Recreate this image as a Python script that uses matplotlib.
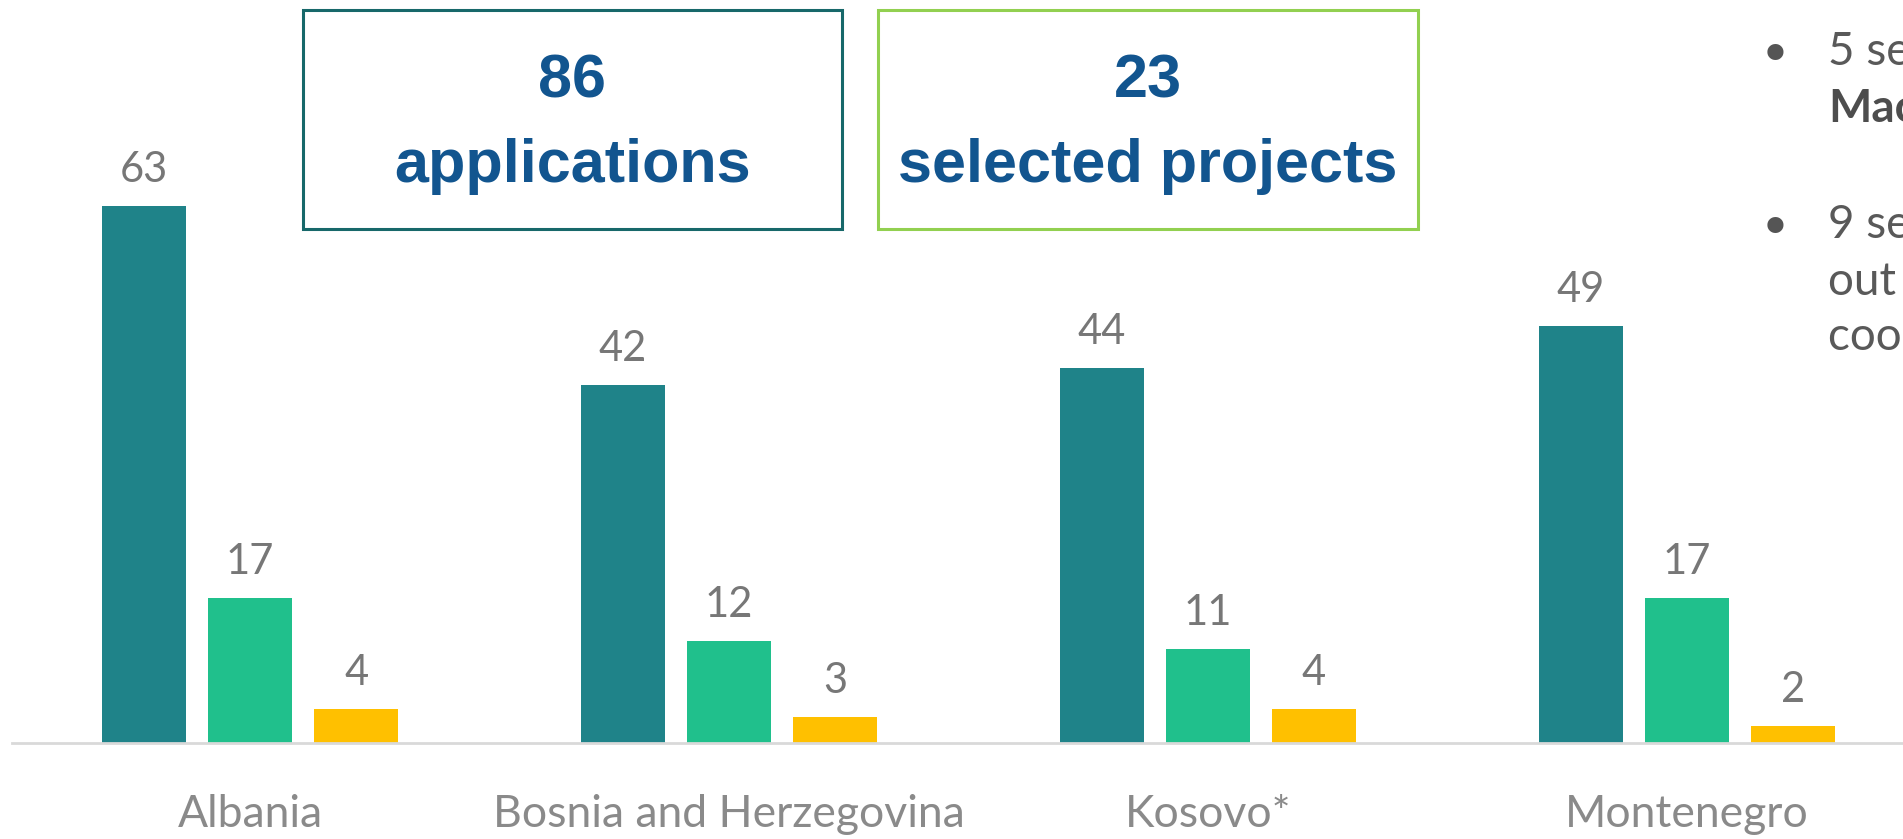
import matplotlib.pyplot as plt
from matplotlib.patches import Rectangle

# data
countries = ["Albania", "Bosnia and Herzegovina", "Kosovo*", "Montenegro"]
applications = [63, 42, 44, 49]
partners = [17, 12, 11, 17]
selected = [4, 3, 4, 2]

series = [applications, partners, selected]
colors = ["#1f8389", "#20c08c", "#ffc000"]
offsets = [-0.2213, 0.0, 0.2213]

box_texts = [("86", "applications"), ("23", "selected projects")]
box_edges = ["#17686a", "#92d050"]

bullets = [
    ["5 selected projects in North", "**Macedonia**"],
    ["9 selected projects from Serbia", "out of which 3 are", "coordinated by Serbian partners"],
]

label_font = ["Lato", "DejaVu Sans"]
W, H = 1903, 839

fig = plt.figure(figsize=(W / 100, H / 100), dpi=100)
ax = fig.add_axes([12 / W, 96 / H, (W - 12) / W, 743 / H])

for vals, col, off in zip(series, colors, offsets):
    xs = [i + off for i in range(len(countries))]
    bars = ax.bar(xs, vals, width=0.1754, color=col, zorder=2)
    for x, v in zip(xs, vals):
        ax.annotate(str(v), (x, v), xytext=(0, 24 * 0.72), textcoords="offset points",
                    ha="center", va="baseline", fontsize=30, color="#777777",
                    family=label_font)

for i, name in enumerate(countries):
    ax.annotate(name, (i, 0), xycoords=("data", "axes fraction"),
                xytext=(0, -84 * 0.72), textcoords="offset points",
                ha="center", va="baseline", fontsize=32, color="#8a8a8a",
                family=label_font)

ax.set_xlim(-0.497, 3.451)
ax.set_ylim(0, 743 / 8.52)
for s in ["top", "right", "left"]:
    ax.spines[s].set_visible(False)
ax.spines["bottom"].set_color("#d9d9d9")
ax.spines["bottom"].set_linewidth(2)
ax.set_xticks([])
ax.set_yticks([])

# summary boxes
box_x = [(303, 842), (878, 1418)]
for (x0, x1), (num, txt), ec in zip(box_x, box_texts, box_edges):
    fig.patches.append(Rectangle((x0 / W, 1 - 229 / H), (x1 - x0) / W, 219 / H,
                                 transform=fig.transFigure, fill=False,
                                 edgecolor=ec, linewidth=2.2))
    cx = (x0 + x1) / 2 / W
    fig.text(cx, 1 - 97 / H, num, ha="center", va="baseline", fontsize=44,
             fontweight="bold", color="#12558f", family="Liberation Sans")
    fig.text(cx, 1 - 182 / H, txt, ha="center", va="baseline", fontsize=44,
             fontweight="bold", color="#12558f", family="Liberation Sans")

# bullet text on the right (cut off by the slide edge)
baselines = [[65, 122], [238, 295, 350]]
for lines, ys in zip(bullets, baselines):
    fig.text(1775 / W, 1 - (ys[0] + 8) / H, "\u2022", ha="center", va="baseline",
             fontsize=40, color="#555555", family="DejaVu Sans")
    for line, y in zip(lines, ys):
        bold = line.startswith("**")
        fig.text(1828 / W, 1 - y / H, line.strip("*"), ha="left", va="baseline",
                 fontsize=33, color="#4d4d4d" if bold else "#595959",
                 fontweight="bold" if bold else "normal", family=label_font)

fig.savefig("out.png", dpi=100)
